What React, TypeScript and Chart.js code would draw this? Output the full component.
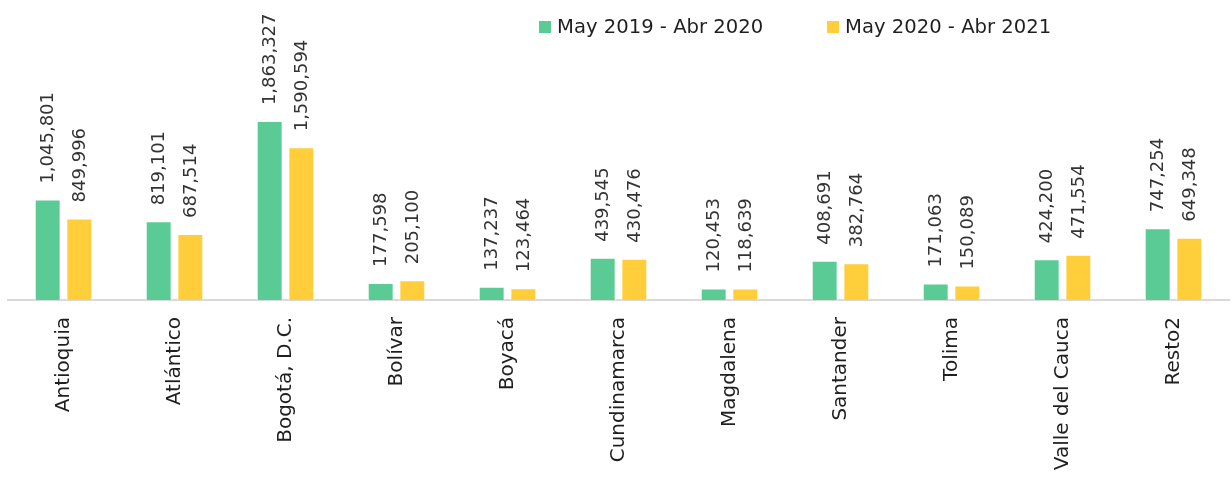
import React, { useEffect, useRef } from "react";
import { Chart, registerables } from "chart.js";

Chart.register(...registerables);

const categories = [
  "Antioquia",
  "Atlántico",
  "Bogotá, D.C.",
  "Bolívar",
  "Boyacá",
  "Cundinamarca",
  "Magdalena",
  "Santander",
  "Tolima",
  "Valle del Cauca",
  "Resto2",
];
const seriesNames = ["May 2019 - Abr 2020", "May 2020 - Abr 2021"];
const series2019 = [1045801, 819101, 1863327, 177598, 137237, 439545, 120453, 408691, 171063, 424200, 747254];
const series2020 = [849996, 687514, 1590594, 205100, 123464, 430476, 118639, 382764, 150089, 471554, 649348];

const GREEN = "#5BCB95";
const YELLOW = "#FFCE3A";
const FONT = "'DejaVu Sans', sans-serif";

const valueLabelPlugin = {
  id: "valueLabels",
  afterDatasetsDraw(chart: any) {
    const ctx = chart.ctx;
    ctx.save();
    ctx.font = `18px ${FONT}`;
    ctx.fillStyle = "#333333";
    ctx.textAlign = "left";
    ctx.textBaseline = "middle";
    chart.data.datasets.forEach((ds: any, di: number) => {
      const meta = chart.getDatasetMeta(di);
      meta.data.forEach((bar: any, i: number) => {
        const v = ds.data[i];
        const text = v.toLocaleString("en-US");
        ctx.save();
        ctx.translate(bar.x + 1, bar.y - 16);
        ctx.rotate(-Math.PI / 2);
        ctx.fillText(text, 0, 0);
        ctx.restore();
      });
    });
    ctx.restore();
  },
};

export default function App() {
  const canvasRef = useRef<HTMLCanvasElement | null>(null);

  useEffect(() => {
    if (!canvasRef.current) return;
    const chart = new Chart(canvasRef.current, {
      type: "bar",
      data: {
        labels: categories,
        datasets: [
          {
            label: seriesNames[0],
            data: series2019,
            backgroundColor: GREEN,
            borderColor: "#ffffff",
            borderWidth: 1,
            categoryPercentage: 0.57,
            barPercentage: 0.82,
          },
          {
            label: seriesNames[1],
            data: series2020,
            backgroundColor: YELLOW,
            borderColor: "#ffffff",
            borderWidth: 1,
            categoryPercentage: 0.57,
            barPercentage: 0.82,
          },
        ],
      },
      options: {
        responsive: false,
        animation: false,
        layout: { padding: { left: 8, right: 3, top: 12, bottom: 0 } },
        plugins: {
          legend: { display: false },
          tooltip: { enabled: false },
        },
        scales: {
          x: {
            grid: { display: false, drawTicks: false },
            border: { display: true, color: "#d9d9d9", width: 2 },
            ticks: {
              minRotation: 90,
              maxRotation: 90,
              padding: 17,
              color: "#1f1f1f",
              font: { family: FONT, size: 20 },
            },
            afterFit(scale: any) {
              scale.height = 183;
            },
          },
          y: {
            display: false,
            min: 0,
            max: 3000000,
          },
        },
      },
      plugins: [valueLabelPlugin],
    });
    return () => chart.destroy();
  }, []);

  const legendItem = (color: string, text: string, left: number) => (
    <div
      style={{
        position: "absolute",
        left,
        top: 15,
        display: "flex",
        alignItems: "center",
        fontFamily: FONT,
        fontSize: 19.6,
        color: "#1f1f1f",
        whiteSpace: "nowrap",
      }}
    >
      <span style={{ display: "inline-block", width: 12, height: 12, background: color, marginRight: 6 }} />
      <span>{text}</span>
    </div>
  );

  return (
    <div style={{ position: "absolute", left: 0, top: 0, width: 1232, height: 483, background: "#fff" }}>
      <canvas ref={canvasRef} width={1232} height={483} style={{ position: "absolute", left: 0, top: 0 }} />
      {legendItem(GREEN, seriesNames[0], 539)}
      {legendItem(YELLOW, seriesNames[1], 827)}
    </div>
  );
}
